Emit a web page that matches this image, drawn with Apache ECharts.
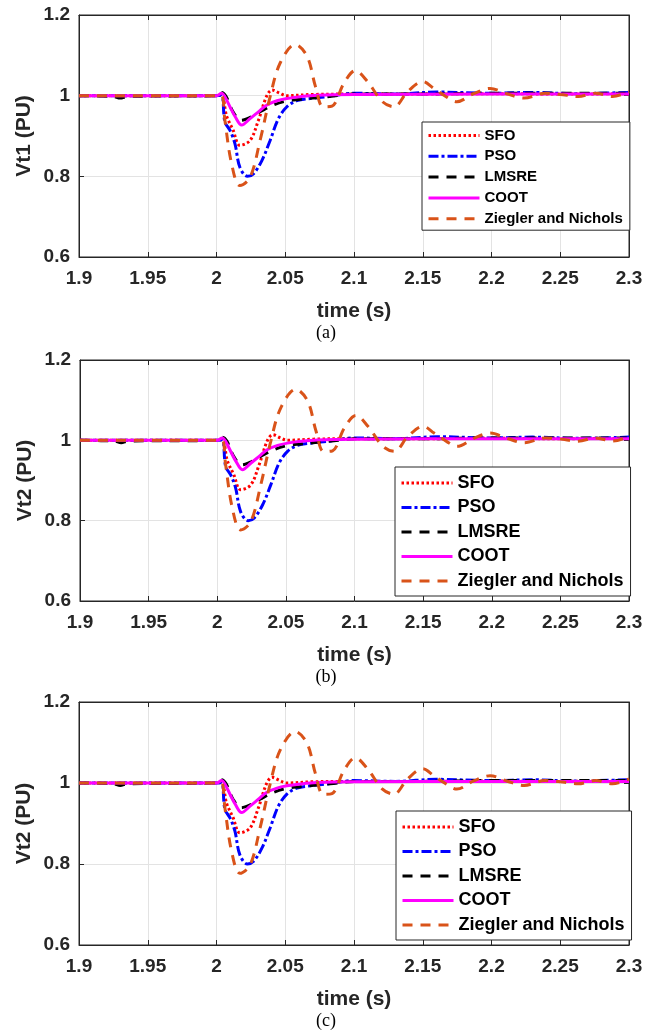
<!DOCTYPE html>
<html>
<head>
<meta charset="utf-8">
<script src="https://cdn.jsdelivr.net/npm/echarts@6/dist/echarts.min.js"></script>
<style>
  html, body { margin: 0; padding: 0; background: #fff; }
  #chart { width: 657px; height: 1032px; }
</style>
</head>
<body>
<div id="chart"></div>
<script>
// time (s), voltage (PU)
const sfo = [[1.9,1.0],[1.95,1.0],[2.0,1.0],[2.0037,1.002],[2.0073,0.95],[2.012,0.915],[2.017,0.877],[2.0244,0.889],
  [2.0305,0.939],[2.0366,1.0],[2.0405,1.014],[2.046,1.006],[2.051,1.0],[2.07,1.003],[2.1,1.004],[2.15,1.004],
  [2.2,1.005],[2.25,1.004],[2.3,1.005]];
const pso = [[1.9,1.0],[2.0,1.0],[2.0037,1.001],[2.0061,0.935],[2.0098,0.914],[2.0134,0.881],[2.017,0.8225],
  [2.0225,0.80],[2.0268,0.806],[2.033,0.839],[2.039,0.889],[2.045,0.943],[2.0512,0.9725],[2.0585,0.9875],
  [2.068,0.993],[2.0805,0.9975],[2.1,1.006],[2.13,1.004],[2.16,1.009],[2.2,1.006],[2.23,1.008],[2.26,1.005],[2.3,1.008]];
const lmsre = [[1.9,1.0],[1.925,0.998],[1.93,0.994],[1.935,0.998],[2.0,1.0],[2.0037,1.008],[2.007,0.998],
  [2.012,0.96],[2.018,0.939],[2.0244,0.946],[2.0317,0.96],[2.0415,0.977],[2.0512,0.987],[2.061,0.991],
  [2.073,0.995],[2.085,0.999],[2.1,1.004],[2.15,1.004],[2.2,1.006],[2.3,1.006]];
const coot = [[1.9,1.0],[2.0,1.0],[2.0037,1.006],[2.006,0.998],[2.011,0.964],[2.0134,0.949],[2.0183,0.927],
  [2.0244,0.943],[2.0305,0.96],[2.0366,0.977],[2.044,0.9875],[2.0512,0.993],[2.061,0.9975],[2.073,1.001],
  [2.1,1.003],[2.2,1.004],[2.3,1.004]];
const zn = [[1.9,1.0],[2.0,1.0],[2.0037,1.0],[2.0061,0.939],[2.011,0.831],[2.017,0.777],[2.0244,0.797],
  [2.0317,0.889],[2.039,0.9975],[2.0463,1.081],[2.0573,1.127],[2.0659,1.0975],[2.072,1.0225],[2.0776,0.972],
  [2.084,0.974],[2.0927,1.031],[2.101,1.062],[2.1098,1.035],[2.1207,0.985],[2.129,0.9725],[2.139,1.01],
  [2.15,1.035],[2.158,1.018],[2.167,0.9975],[2.1748,0.985],[2.187,1.005],[2.199,1.018],[2.211,1.005],
  [2.2237,0.994],[2.239,1.006],[2.25,1.003],[2.263,0.998],[2.2755,1.006],[2.288,0.998],[2.3,1.01]];

const seriesNames = ['SFO', 'PSO', 'LMSRE', 'COOT', 'Ziegler and Nichols'];
const seriesData = [sfo, pso, lmsre, coot, zn];
const yTitles = ['Vt1 (PU)', 'Vt2 (PU)', 'Vt2 (PU)'];
const panelLabels = ['(a)', '(b)', '(c)'];

const lineStyles = [
  { color: '#ff0000', width: 3, type: [2.5, 2.5] },
  { color: '#0000ff', width: 3, type: [10, 3, 3, 3] },
  { color: '#000000', width: 3, type: [10, 8] },
  { color: '#ff00ff', width: 3, type: 'solid' },
  { color: '#d95319', width: 3, type: [10, 8] }
];

// panel boxes [left, top, width, height]
const boxes = [[79, 15, 550, 242], [80, 360, 549, 241], [79, 702, 550, 243]];
const legendBoxes = [
  { left: 422, top: 122, font: 15, gap: 5.8, pad: [6, 7, 4, 5] },
  { left: 395, top: 467, font: 18, gap: 6.5, pad: [7, 7, 6, 5] },
  { left: 396, top: 811, font: 18, gap: 6.5, pad: [7, 7, 6, 5] }
];

const font = "'Liberation Sans', Arial, sans-serif";
const ink = '#262626';

const grid = [], xAxis = [], yAxis = [], series = [], legend = [], graphic = [];
boxes.forEach((b, p) => {
  grid.push({ left: b[0], top: b[1], width: b[2], height: b[3], show: true,
    borderColor: ink, borderWidth: 1, backgroundColor: '#fff' });
  xAxis.push({
    type: 'value', gridIndex: p, min: 1.9, max: 2.3, interval: 0.05, position: 'bottom',
    name: 'time (s)', nameLocation: 'middle', nameGap: 44,
    nameTextStyle: { fontFamily: font, fontWeight: 'bold', fontSize: 21, color: ink },
    axisLine: { lineStyle: { color: ink, width: 1 } },
    axisTick: { inside: true, length: 5, lineStyle: { color: ink } },
    axisLabel: { margin: 12, fontFamily: font, fontWeight: 'bold', fontSize: 19, color: ink,
      formatter: v => String(+v.toFixed(2)) },
    splitLine: { show: true, lineStyle: { color: '#e3e3e3', width: 1 } }
  });
  xAxis.push({
    type: 'value', gridIndex: p, min: 1.9, max: 2.3, interval: 0.05, position: 'top',
    axisLine: { lineStyle: { color: ink } },
    axisTick: { inside: true, length: 5, lineStyle: { color: ink } },
    axisLabel: { show: false }, splitLine: { show: false }
  });
  yAxis.push({
    type: 'value', gridIndex: p, min: 0.6, max: 1.2, interval: 0.2, position: 'left',
    name: yTitles[p], nameLocation: 'middle', nameGap: 44, nameRotate: 90, nameMoveOverlap: false,
    nameTextStyle: { fontFamily: font, fontWeight: 'bold', fontSize: 21, color: ink },
    axisLine: { lineStyle: { color: ink, width: 1 } },
    axisTick: { inside: true, length: 5, lineStyle: { color: ink } },
    axisLabel: { margin: 9, fontFamily: font, fontWeight: 'bold', fontSize: 19, color: ink,
      formatter: v => String(+v.toFixed(1)) },
    splitLine: { show: true, lineStyle: { color: '#e3e3e3', width: 1 } }
  });
  yAxis.push({
    type: 'value', gridIndex: p, min: 0.6, max: 1.2, interval: 0.2, position: 'right',
    axisLine: { lineStyle: { color: ink } },
    axisTick: { inside: true, length: 5, lineStyle: { color: ink } },
    axisLabel: { show: false }, splitLine: { show: false }
  });
  seriesNames.forEach((name, i) => {
    series.push({
      name: name, type: 'line', xAxisIndex: p * 2, yAxisIndex: p * 2,
      data: seriesData[i], symbol: 'none', smooth: 0.35, animation: false,
      itemStyle: { color: lineStyles[i].color },
      lineStyle: lineStyles[i], z: 2 + i
    });
  });
  const lb = legendBoxes[p];
  legend.push({
    data: seriesNames, orient: 'vertical', left: lb.left, top: lb.top,
    itemWidth: 51, itemHeight: 14, itemGap: lb.gap,
    padding: lb.pad,
    backgroundColor: '#fff', borderColor: ink, borderWidth: 1,
    selectedMode: false,
    itemStyle: { color: 'rgba(0,0,0,0)', borderWidth: 0, opacity: 0 },
    lineStyle: { width: 3 },
    textStyle: { fontFamily: font, fontWeight: 'bold', fontSize: lb.font, color: '#000', lineHeight: 14 }
  });
  graphic.push({
    type: 'text', x: 326, y: b[1] + b[3] + 76, z: 10,
    style: { text: panelLabels[p], font: "18px 'Liberation Serif', 'Times New Roman', serif",
      fill: '#000', textAlign: 'center', textVerticalAlign: 'middle' }
  });
});

const chart = echarts.init(document.getElementById('chart'), null, { renderer: 'canvas' });
chart.setOption({
  backgroundColor: '#fff',
  animation: false,
  grid: grid, xAxis: xAxis, yAxis: yAxis, legend: legend, graphic: graphic, series: series
});
</script>
</body>
</html>
